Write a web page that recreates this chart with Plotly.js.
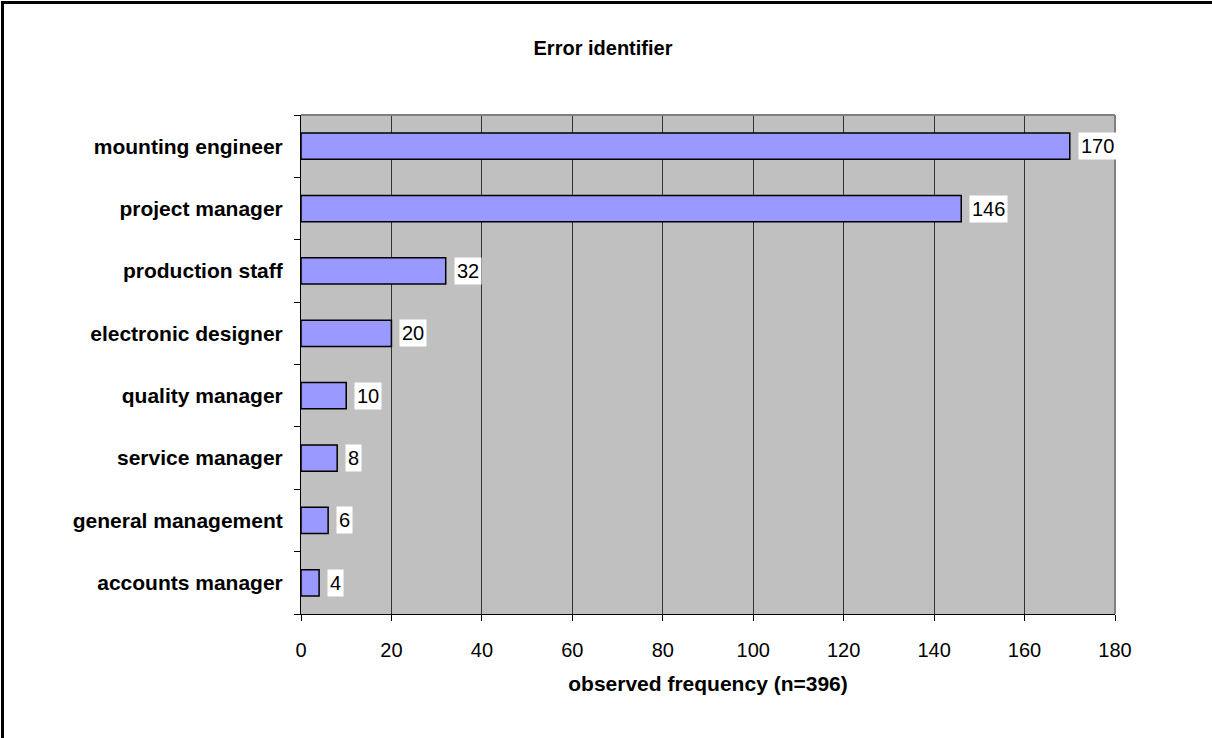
<!DOCTYPE html>
<html>
<head>
<meta charset="utf-8">
<script src="https://cdn.plot.ly/plotly-3.0.1.min.js"></script>
<style>
  html, body { margin: 0; padding: 0; background: #fff; }
  #wrap { position: relative; width: 1212px; height: 738px; }
  #chart { position: absolute; left: 0; top: 0; width: 1212px; height: 738px; }
  #frame { position: absolute; left: 1px; top: 1px; width: 1300px; height: 800px;
           border-left: 3px solid #000; border-top: 3px solid #000; pointer-events: none; }
</style>
</head>
<body>
<div id="wrap">
  <div id="chart"></div>
  <div id="frame"></div>
</div>
<script>
// Who identified the error, by observed frequency
const roles = [
  "mounting engineer",
  "project manager",
  "production staff",
  "electronic designer",
  "quality manager",
  "service manager",
  "general management",
  "accounts manager"
];
const counts = [170, 146, 32, 20, 10, 8, 6, 4];
const xTicks = [0, 20, 40, 60, 80, 100, 120, 140, 160, 180];

const FONT = "Liberation Sans, Arial, Helvetica, sans-serif";

const trace = {
  type: "bar",
  orientation: "h",
  y: roles,
  x: counts,
  marker: { color: "#9999FF", line: { color: "#000000", width: 1.5 } },
  hoverinfo: "x+y"
};

// value labels on white boxes next to each bar
const labels = roles.map((r, i) => ({
  x: counts[i],
  y: r,
  xref: "x",
  yref: "y",
  text: String(counts[i]),
  showarrow: false,
  xanchor: "left",
  yanchor: "middle",
  xshift: 8,
  bgcolor: "#ffffff",
  borderpad: 2,
  font: { family: FONT, size: 20, color: "#000" }
}));

const layout = {
  width: 1212,
  height: 738,
  margin: { l: 301, r: 97, t: 115, b: 124 },
  paper_bgcolor: "#ffffff",
  plot_bgcolor: "#C0C0C0",
  showlegend: false,
  bargap: 0.58,
  title: {
    text: "<b>Error identifier</b>",
    font: { family: FONT, size: 20, color: "#000" },
    x: 603 / 1212,
    xref: "container",
    xanchor: "center",
    y: 1 - 48 / 738,
    yref: "container",
    yanchor: "middle"
  },
  xaxis: {
    range: [0, 180],
    tickvals: xTicks,
    ticktext: xTicks.map(String),
    ticks: "outside",
    ticklen: 6,
    tickcolor: "#000",
    ticklabelstandoff: 12,
    tickfont: { family: FONT, size: 20, color: "#000" },
    showgrid: true,
    gridcolor: "#333333",
    gridwidth: 1,
    showline: true,
    linecolor: "#000",
    linewidth: 1,
    zeroline: false,
    fixedrange: true,
    title: {
      text: "<b>observed frequency (n=396)</b>",
      font: { family: FONT, size: 21, color: "#000" },
      standoff: 16
    }
  },
  yaxis: {
    type: "category",
    categoryorder: "array",
    categoryarray: roles.slice().reverse(),
    tickson: "boundaries",
    ticks: "outside",
    ticklen: 6,
    tickcolor: "#000",
    ticklabelstandoff: 13,
    tickfont: { family: FONT, size: 21, color: "#000", weight: "bold" },
    showgrid: false,
    showline: true,
    linecolor: "#000",
    linewidth: 1,
    zeroline: false,
    fixedrange: true
  },
  shapes: [
    { type: "line", xref: "paper", yref: "paper", x0: 0, x1: 1, y0: 1, y1: 1,
      line: { color: "#808080", width: 2 } },
    { type: "line", xref: "paper", yref: "paper", x0: 1, x1: 1, y0: 0, y1: 1,
      line: { color: "#808080", width: 2 } }
  ],
  annotations: labels
};

Plotly.newPlot("chart", [trace], layout, { displayModeBar: false, staticPlot: true });
</script>
</body>
</html>
